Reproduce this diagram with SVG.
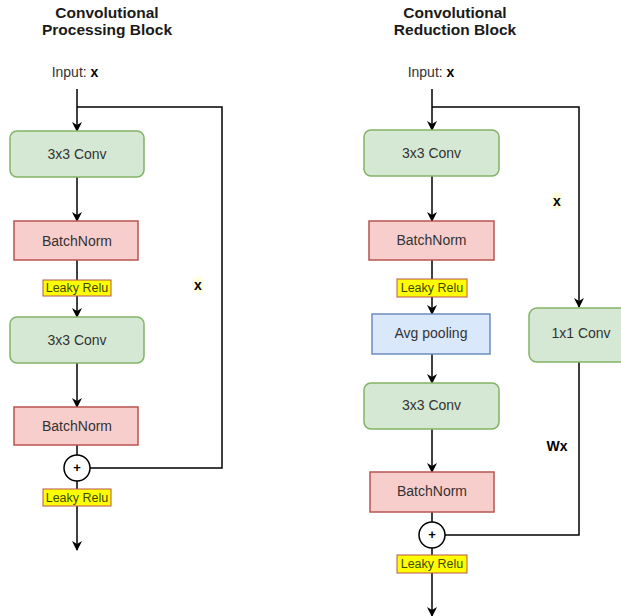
<svg xmlns="http://www.w3.org/2000/svg" width="621" height="616" viewBox="0 0 621 616">
<defs>
<marker id="arr" viewBox="0 0 10 10" refX="9" refY="5" markerWidth="10" markerHeight="10" markerUnits="userSpaceOnUse" orient="auto">
<path d="M0,0 L10,5 L0,10 L3,5 Z" fill="#000"/>
</marker>
<style>
text{font-family:"Liberation Sans",Arial,sans-serif;font-size:14px;fill:#333;text-anchor:middle;dominant-baseline:central}
.title{font-weight:bold;font-size:15.5px;fill:#1a1a1a}
.b{font-weight:bold;fill:#000}
.conv{fill:#d5e8d4;stroke:#82b366;stroke-width:1.5}
.bn{fill:#f8cecc;stroke:#b85450;stroke-width:1.5}
.pool{fill:#dae8fc;stroke:#6c8ebf;stroke-width:1.5}
.relu{fill:#ffff00;stroke:#b85450;stroke-width:1}
.relu-t{font-size:12.5px;fill:#3b4a00}
.sum{fill:#fff;stroke:#000;stroke-width:1.5}
.line{fill:none;stroke:#000;stroke-width:1.5}
.la{fill:none;stroke:#000;stroke-width:1.5;marker-end:url(#arr)}
</style>
</defs>
<rect width="621" height="616" fill="#fff"/>

<g id="titles">
<text class="title" x="107" y="12">Convolutional</text>
<text class="title" x="107" y="29">Processing Block</text>
<text class="title" x="455" y="12">Convolutional</text>
<text class="title" x="455" y="29">Reduction Block</text>
</g>

<g id="connectors">
<!-- left -->
<path class="la" d="M77,89 L77,131"/>
<path class="line" d="M77,107 L222,107 L222,468 L90,468"/>
<path class="la" d="M77,177 L77,221"/>
<path class="la" d="M77,260 L77,317"/>
<path class="la" d="M77,363 L77,407"/>
<path class="line" d="M77,445 L77,455"/>
<path class="la" d="M77,481 L77,550"/>
<!-- right -->
<path class="la" d="M432,89 L432,130"/>
<path class="la" d="M432,107 L579,107 L579,307"/>
<path class="la" d="M432,176 L432,221"/>
<path class="la" d="M432,260 L432,314"/>
<path class="la" d="M432,354 L432,383"/>
<path class="la" d="M432,429 L432,472"/>
<path class="line" d="M432,512 L432,522"/>
<path class="line" d="M579,362 L579,535 L445,535"/>
<path class="la" d="M432,548 L432,616"/>
</g>

<g id="input-left"><text x="75" y="72">Input: <tspan class="b">x</tspan></text></g>
<g id="conv1-left"><rect class="conv" x="10" y="131" width="134" height="46" rx="7"/><text x="77" y="154">3x3 Conv</text></g>
<g id="bn1-left"><rect class="bn" x="14" y="221" width="124" height="39"/><text x="77" y="240.5">BatchNorm</text></g>
<g id="relu1-left"><rect class="relu" x="43" y="280" width="68" height="16"/><text class="relu-t" x="77" y="288">Leaky Relu</text></g>
<g id="conv2-left"><rect class="conv" x="10" y="317" width="134" height="46" rx="7"/><text x="77" y="340">3x3 Conv</text></g>
<g id="bn2-left"><rect class="bn" x="14" y="407" width="124" height="38"/><text x="77" y="426">BatchNorm</text></g>
<g id="sum-left"><circle class="sum" cx="77" cy="468" r="13"/><text class="b" x="77" y="467" style="font-size:13px">+</text></g>
<g id="relu2-left"><rect class="relu" x="43" y="489" width="68" height="17"/><text class="relu-t" x="77" y="497.5">Leaky Relu</text></g>
<g id="label-x-left"><rect x="193" y="277" width="10" height="16" fill="#ffffe0"/><text class="b" x="198" y="285">x</text></g>

<g id="input-right"><text x="431" y="72">Input: <tspan class="b">x</tspan></text></g>
<g id="conv1-right"><rect class="conv" x="364" y="130" width="135" height="46" rx="7"/><text x="431.5" y="153">3x3 Conv</text></g>
<g id="bn1-right"><rect class="bn" x="369" y="221" width="125" height="39"/><text x="431.5" y="240">BatchNorm</text></g>
<g id="relu1-right"><rect class="relu" x="397" y="279" width="70" height="18"/><text class="relu-t" x="432" y="288">Leaky Relu</text></g>
<g id="pool-right"><rect class="pool" x="372" y="314" width="118" height="40"/><text x="431" y="333">Avg pooling</text></g>
<g id="conv2-right"><rect class="conv" x="364" y="383" width="135" height="46" rx="7"/><text x="431.5" y="405">3x3 Conv</text></g>
<g id="bn2-right"><rect class="bn" x="370" y="472" width="124" height="40"/><text x="432" y="491">BatchNorm</text></g>
<g id="sum-right"><circle class="sum" cx="432" cy="535" r="13"/><text class="b" x="432" y="534" style="font-size:13px">+</text></g>
<g id="relu2-right"><rect class="relu" x="397" y="555" width="70" height="18"/><text class="relu-t" x="432" y="564">Leaky Relu</text></g>
<g id="conv1x1-right"><rect class="conv" x="529" y="308" width="100" height="54" rx="8"/><text x="581" y="333">1x1 Conv</text></g>
<g id="label-x-right"><rect x="552" y="193" width="10" height="16" fill="#ffffe0"/><text class="b" x="557" y="201">x</text></g>
<g id="label-wx"><text class="b" x="557" y="446">Wx</text></g>
</svg>
